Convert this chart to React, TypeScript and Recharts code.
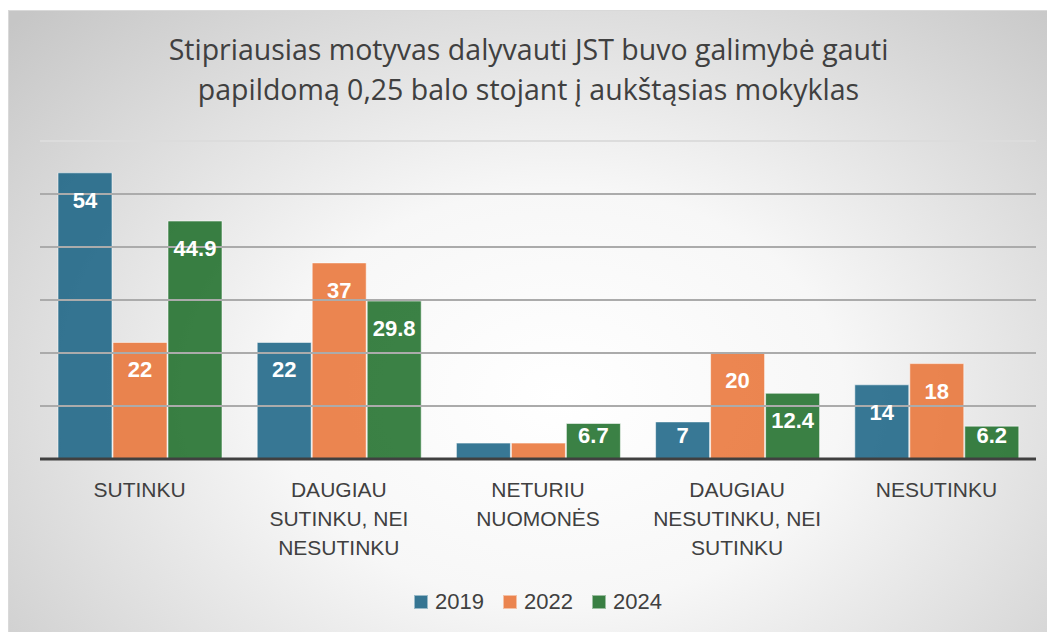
import React from "react";
import { BarChart, Bar, XAxis, YAxis, Legend, ReferenceLine, LabelList } from "recharts";

const categories = [
  "SUTINKU",
  "DAUGIAU\nSUTINKU, NEI\nNESUTINKU",
  "NETURIU\nNUOMONĖS",
  "DAUGIAU\nNESUTINKU, NEI\nSUTINKU",
  "NESUTINKU",
];
const values2019 = [54, 22, 3, 7, 14];
const values2022 = [22, 37, 3, 20, 18];
const values2024 = [44.9, 29.8, 6.7, 12.4, 6.2];
const gridTicks = [10, 20, 30, 40, 50, 60];

const series = [
  { key: "y2019", name: "2019", color: "#156082" },
  { key: "y2022", name: "2022", color: "#E97132" },
  { key: "y2024", name: "2024", color: "#196B24" },
];

const data = categories.map((c, i) => ({
  category: c,
  y2019: values2019[i],
  y2022: values2022[i],
  y2024: values2024[i],
}));

const FONT = "'Liberation Sans', Arial, sans-serif";

const CategoryTick = ({ x, y, payload }: any) => {
  const lines = String(payload.value).split("\n");
  return (
    <g transform={`translate(${x},${y})`}>
      {lines.map((l, i) => (
        <text key={i} x={0} y={30 + i * 29} textAnchor="middle" fontSize={21} fill="#404040" fontFamily={FONT}>
          {l}
        </text>
      ))}
    </g>
  );
};

const ValueLabel = ({ x, y, width, height, value }: any) => {
  if (value < 5) return null;
  const cy = Math.min(y + 27, y + height - 24);
  return (
    <text x={x + width / 2} y={cy} dy="0.36em" textAnchor="middle" fill="#ffffff" fontWeight="bold" fontSize={22} fontFamily={FONT}>
      {value}
    </text>
  );
};

const LegendContent = () => (
  <div style={{ display: "flex", justifyContent: "center", alignItems: "center", gap: 19, fontFamily: FONT, fontSize: 22, color: "#404040" }}>
    {series.map((s) => (
      <div key={s.key} style={{ display: "flex", alignItems: "center", gap: 7 }}>
        <span style={{ display: "inline-block", width: 12, height: 12, background: s.color, opacity: 0.85, border: "1px solid rgba(255,255,255,0.5)" }} />
        <span>{s.name}</span>
      </div>
    ))}
  </div>
);

export default function App() {
  return (
    <div>
      <style>{`body{margin:0;overflow:hidden}`}</style>
      <div
        style={{
          position: "relative",
          marginLeft: 8,
          marginTop: 10,
          width: 1039,
          height: 622,
          boxSizing: "border-box",
          borderTop: "1px solid #d9d9d9",
          borderLeft: "1px solid #d9d9d9",
          background: "radial-gradient(ellipse 72% 88% at 53% 62%, #ffffff 0%, #f7f7f7 38%, #c6c6c6 100%)",
        }}
      >
        <div
          style={{
            position: "absolute",
            top: 18,
            left: 0,
            width: 1039,
            textAlign: "center",
            fontFamily: "'Open Sans', sans-serif",
            fontSize: 28.5,
            lineHeight: "40px",
            color: "#404040",
          }}
        >
          Stipriausias motyvas dalyvauti JST buvo galimybė gauti
          <br />
          papildomą 0,25 balo stojant į aukštąsias mokyklas
        </div>
        <BarChart
          width={1039}
          height={622}
          data={data}
          margin={{ top: 130, right: 12, left: 31, bottom: 48 }}
          barCategoryGap={18}
          barGap={1}
          style={{ position: "absolute", top: 0, left: 0 }}
        >
          <YAxis hide domain={[0, 60]} ticks={[0, ...gridTicks]} />
          {gridTicks.map((t) => (
            <ReferenceLine key={t} y={t} stroke={t === 60 ? "#dcdcdc" : "#ababab"} strokeWidth={2} />
          ))}
          {series.map((s) => (
            <Bar
              key={s.key}
              dataKey={s.key}
              name={s.name}
              fill={s.color}
              fillOpacity={0.85}
              stroke="rgba(255,255,255,0.55)"
              strokeWidth={1}
              isAnimationActive={false}
            >
              <LabelList dataKey={s.key} content={<ValueLabel />} />
            </Bar>
          ))}
          <XAxis
            dataKey="category"
            height={100}
            tickLine={false}
            axisLine={{ stroke: "#404040", strokeWidth: 3 }}
            tick={<CategoryTick />}
            interval={0}
          />
          <Legend verticalAlign="bottom" content={<LegendContent />} wrapperStyle={{ bottom: 18 }} />
        </BarChart>
      </div>
    </div>
  );
}
